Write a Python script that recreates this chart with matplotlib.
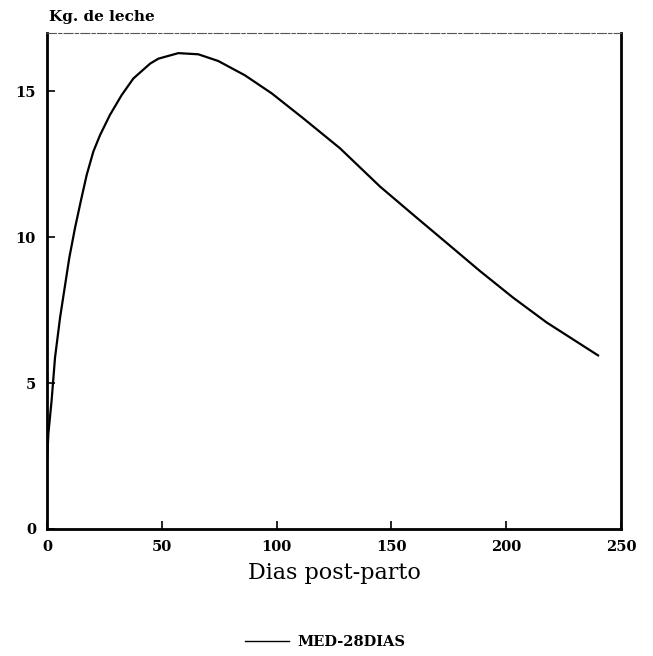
import matplotlib
matplotlib.use("Agg")
import matplotlib.pyplot as plt

days = [0, 0.6, 2.0, 3.5, 5.7, 9.7, 12.2, 14.7, 17.3, 20.2, 23.1, 27.4, 32.5,
        37.6, 44.9, 48.5, 57.2, 65.9, 74.6, 86.2, 97.9, 111.7, 127.6, 145,
        159.5, 174, 188.6, 203, 217.6, 240]
milk = [2.3, 3.27, 4.4, 5.88, 7.25, 9.29, 10.32, 11.23, 12.14, 12.94, 13.5,
        14.19, 14.87, 15.44, 15.95, 16.12, 16.31, 16.27, 16.04, 15.55, 14.93,
        14.07, 13.05, 11.74, 10.77, 9.81, 8.84, 7.93, 7.08, 5.95]
xticks = [0, 50, 100, 150, 200, 250]
yticks = [0, 5, 10, 15]
series_name = "MED-28DIAS"

fig = plt.figure(figsize=(6.53, 6.56), dpi=100)
ax = fig.add_axes([47/653, 1-529/656, (621-47)/653, (529-33)/656])

ax.plot(days, milk, color="black", lw=1.6, label=series_name,
        solid_joinstyle="round")
ax.set_xlim(0, 250)
ax.set_ylim(0, 17)
ax.set_xticks(xticks)
ax.set_yticks(yticks)
ax.tick_params(direction="in", length=6, width=1.2, pad=8)
for lab in ax.get_xticklabels() + ax.get_yticklabels():
    lab.set_family("DejaVu Serif")
    lab.set_fontweight("bold")
    lab.set_fontsize(10.5)

for s in ("left", "bottom", "right"):
    ax.spines[s].set_linewidth(2)
ax.spines["top"].set_linewidth(0.8)
ax.spines["top"].set_linestyle((0, (8, 2, 3, 2)))
ax.spines["top"].set_color("#555555")

ax.set_xlabel("Dias post-parto", family="DejaVu Serif", fontsize=16, labelpad=6)
fig.text(49/653, 1-17/656, "Kg. de leche", family="DejaVu Serif",
         fontweight="bold", fontsize=11, ha="left", va="center")

leg = fig.legend(loc="center", bbox_to_anchor=(0.498, 1-642/656), frameon=False,
                 handlelength=3.0, handletextpad=0.6,
                 prop={"family": "DejaVu Serif", "weight": "bold", "size": 10.5})
for line in leg.get_lines():
    line.set_linewidth(1.0)

fig.savefig("out.png", dpi=100)
